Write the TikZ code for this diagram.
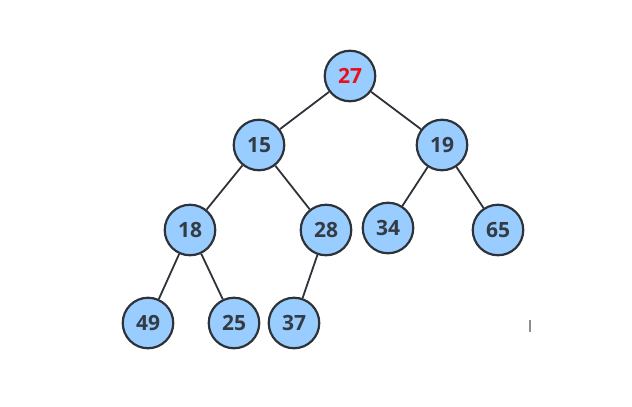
\documentclass[tikz,border=0pt]{standalone}
\usepackage{fontspec}
\setmainfont{Open Sans}
\begin{document}
\begin{tikzpicture}[x=1pt,y=-1pt,
  hnode/.style={circle,draw=edgecol,line width=2.2pt,fill=nodefill,minimum size=50.5pt,inner sep=0pt,
    font=\fontsize{21}{21}\selectfont\bfseries,text=txtcol},
  edge/.style={draw=edgecol,line width=1.8pt}]
\definecolor{nodefill}{HTML}{99CCFF}
\definecolor{edgecol}{HTML}{2E3339}
\definecolor{txtcol}{HTML}{333B44}
\definecolor{redtxt}{HTML}{E8101C}
\useasboundingbox (0,0) rectangle (632,407);
\node[hnode,text=redtxt] (n27) at (350,76) {27};
\node[hnode] (n15) at (259,145) {15};
\node[hnode] (n19) at (442,145) {19};
\node[hnode] (n18) at (190,230) {18};
\node[hnode] (n28) at (326,230) {28};
\node[hnode] (n34) at (388,228) {34};
\node[hnode] (n65) at (498,230) {65};
\node[hnode] (n49) at (148,323) {49};
\node[hnode] (n25) at (234,323) {25};
\node[hnode] (n37) at (294,323) {37};
\draw[edge] (n27) -- (n15);
\draw[edge] (n27) -- (n19);
\draw[edge] (n15) -- (n18);
\draw[edge] (n15) -- (n28);
\draw[edge] (n19) -- (n34);
\draw[edge] (n19) -- (n65);
\draw[edge] (n18) -- (n49);
\draw[edge] (n18) -- (n25);
\draw[edge] (n28) -- (n37);
\coordinate (m1) at (530,320);
\coordinate (m2) at (530,332);
\draw[draw=edgecol!55,line width=1.2pt] (m1) -- (m2);
\end{tikzpicture}
\end{document}
